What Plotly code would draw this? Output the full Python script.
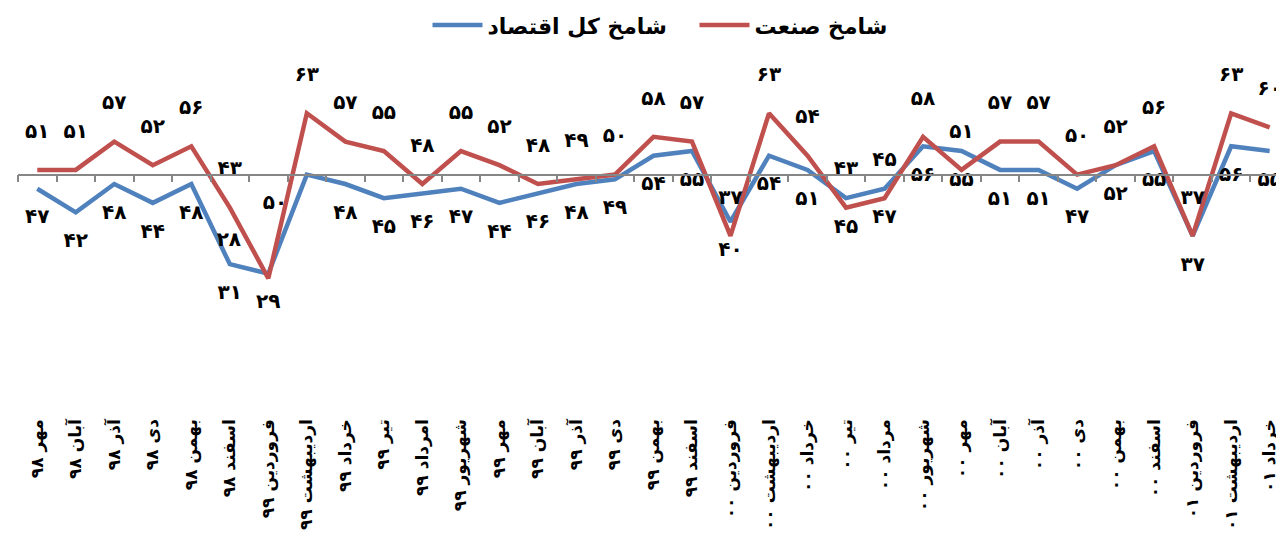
import plotly.graph_objects as go

# ماه‌ها (محور افقی)
MAHHA = ["مهر ۹۸", "آبان ۹۸", "آذر ۹۸", "دی ۹۸", "بهمن ۹۸", "اسفند ۹۸",
         "فروردین ۹۹", "اردیبهشت ۹۹", "خرداد ۹۹", "تیر ۹۹", "امرداد ۹۹", "شهریور ۹۹",
         "مهر ۹۹", "آبان ۹۹", "آذر ۹۹", "دی ۹۹", "بهمن ۹۹", "اسفند ۹۹",
         "فروردین ۰۰", "اردیبهشت ۰۰", "خرداد ۰۰", "تیر ۰۰", "مرداد ۰۰", "شهریور ۰۰",
         "مهر ۰۰", "آبان ۰۰", "آذر ۰۰", "دی ۰۰", "بهمن ۰۰", "اسفند ۰۰",
         "فروردین ۰۱", "اردیبهشت ۰۱", "خرداد ۰۱"]

# شامخ صنعت
SANAT = [51, 51, 57, 52, 56, 43, 28, 63, 57, 55, 48, 55, 52, 48, 49, 50, 58, 57,
         37, 63, 54, 43, 45, 58, 51, 57, 57, 50, 52, 56, 37, 63, 60]

# شامخ کل اقتصاد
KOL = [47, 42, 48, 44, 48, 31, 29, 50, 48, 45, 46, 47, 44, 46, 48, 49, 54, 55,
       40, 54, 51, 45, 47, 56, 55, 51, 51, 47, 52, 55, 37, 56, 55]

ABI = "#4F81BD"
GHERMEZ = "#C0504D"
FONT = "DejaVu Sans"


def fa(n):
    """عدد را با ارقام فارسی برمی‌گرداند"""
    return str(n).translate(str.maketrans("0123456789", "۰۱۲۳۴۵۶۷۸۹"))


def jaye_barchasb(pishfarz, estesna):
    """لیست جای برچسب‌ها، با چند استثنا (برچسب‌هایی که در نمودار اصلی جابجا شده‌اند)"""
    return [estesna.get(i, pishfarz) for i in range(len(MAHHA))]


Y_MIN, Y_MAX = 2.83, 77.25

fig = go.Figure()

# خطوط: اول آبی، بعد قرمز (قرمز روی آبی)
seri = [("شامخ کل اقتصاد", KOL, ABI, jaye_barchasb("bottom center", {7: "bottom left"}), 30),
        ("شامخ صنعت", SANAT, GHERMEZ, jaye_barchasb("top center", {6: "top left"}), 42)]
for nam, meghdar, rang, jaye_matn, fasele in seri:
    fig.add_trace(go.Scatter(
        x=MAHHA, y=meghdar, name=nam, mode="lines",
        line=dict(color=rang, width=4.5),
    ))

# برچسب‌ها: مارکر نامرئی که اندازه‌اش فاصله برچسب از خط را تعیین می‌کند
for nam, meghdar, rang, jaye_matn, fasele in seri:
    fig.add_trace(go.Scatter(
        x=MAHHA, y=meghdar, name=nam, mode="markers+text", showlegend=False,
        marker=dict(size=fasele, color="rgba(0,0,0,0)"),
        text=[fa(v) for v in meghdar],
        textposition=jaye_matn,
        textfont=dict(family=FONT, size=20, color="black", weight="bold"),
        cliponaxis=False, hoverinfo="skip",
    ))

fig.update_layout(
    width=1284, height=552,
    margin=dict(l=10, r=0, t=34, b=163),
    plot_bgcolor="white", paper_bgcolor="white",
    showlegend=True,
    legend=dict(orientation="h", x=0.531, xanchor="center",
                yref="container", y=0.969, yanchor="middle",
                font=dict(family=FONT, size=22, color="black", weight="bold"),
                itemwidth=50, entrywidth=202),
)

# محور افقی روی خط ۵۰
fig.update_xaxes(
    type="category", range=[-0.5, 32.58],
    anchor="free", position=(50 - Y_MIN) / (Y_MAX - Y_MIN),
    showline=True, linecolor="#868686", linewidth=1.5,
    ticks="outside", ticklen=7, tickcolor="#868686", tickwidth=1.5,
    tickson="boundaries", showgrid=False,
    tickangle=-90, ticklabelstandoff=237,
    tickfont=dict(family=FONT, size=17, color="black", weight="bold"),
    automargin=False,
)
fig.update_yaxes(range=[Y_MIN, Y_MAX], visible=False, showgrid=False, zeroline=False)

fig.write_html("out.html")
